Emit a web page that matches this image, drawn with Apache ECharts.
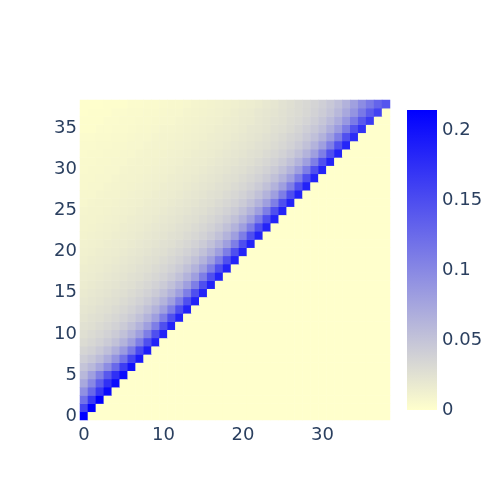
<!DOCTYPE html>
<html><head><meta charset="utf-8">
<script src="https://cdn.jsdelivr.net/npm/echarts@6/dist/echarts.min.js"></script>
<style>html,body{margin:0;padding:0;background:#fff}#c{width:500px;height:500px}</style>
</head><body><div id="c"></div>
<script>
// categories 0..38 on both axes
const xCategories = Array.from({length: 39}, (_, i) => String(i));
const yCategories = Array.from({length: 39}, (_, i) => String(i));
const xTickLabels = ['0', '10', '20', '30'];
const yTickLabels = ['0', '5', '10', '15', '20', '25', '30', '35'];
const colorTicks = [0, 0.05, 0.1, 0.15, 0.2];
const colorMax = 0.2143;
const colorRange = ['#ffffcc', '#0000ff'];

// estimated values, row y lists x = 0..y (cells with x > y are 0)
const zRows = [
[.214],
[.157,.214],
[.120,.166,.214],
[.093,.127,.167,.206],
[.073,.100,.137,.174,.206],
[.060,.080,.107,.140,.174,.204],
[.050,.059,.074,.096,.126,.163,.198],
[.041,.047,.056,.070,.090,.118,.157,.192],
[.035,.039,.045,.054,.067,.085,.112,.152,.188],
[.030,.034,.038,.044,.052,.064,.081,.108,.148,.185],
[.027,.030,.034,.038,.044,.052,.064,.081,.108,.148,.185],
[.025,.027,.030,.034,.038,.044,.052,.064,.081,.108,.148,.185],
[.023,.025,.027,.030,.034,.038,.044,.052,.064,.081,.108,.148,.185],
[.021,.023,.025,.027,.030,.034,.038,.044,.052,.064,.081,.108,.148,.185],
[.019,.021,.023,.025,.027,.030,.034,.038,.044,.052,.064,.081,.108,.148,.185],
[.018,.019,.021,.023,.025,.027,.030,.034,.038,.044,.052,.064,.081,.108,.148,.185],
[.016,.018,.019,.021,.023,.025,.027,.030,.034,.038,.044,.052,.064,.081,.108,.148,.185],
[.015,.016,.018,.019,.021,.023,.025,.027,.030,.034,.038,.044,.052,.064,.081,.108,.148,.185],
[.014,.015,.016,.018,.019,.021,.023,.025,.027,.030,.034,.038,.044,.052,.064,.081,.108,.148,.185],
[.013,.014,.015,.016,.018,.019,.021,.023,.025,.027,.030,.034,.038,.044,.052,.064,.081,.108,.148,.185],
[.012,.013,.014,.015,.016,.018,.019,.021,.023,.025,.027,.030,.034,.038,.044,.052,.064,.081,.108,.148,.185],
[.011,.012,.013,.014,.015,.016,.018,.019,.021,.023,.025,.027,.030,.034,.038,.044,.052,.064,.081,.108,.148,.185],
[.010,.011,.012,.013,.014,.015,.016,.018,.019,.021,.023,.025,.027,.030,.034,.038,.044,.052,.064,.081,.108,.148,.185],
[.009,.010,.011,.012,.013,.014,.015,.016,.018,.019,.021,.023,.025,.027,.030,.034,.038,.044,.052,.064,.081,.108,.148,.185],
[.009,.009,.010,.011,.012,.013,.014,.015,.016,.018,.019,.021,.023,.025,.027,.030,.034,.038,.044,.052,.064,.081,.108,.148,.185],
[.008,.009,.009,.010,.011,.012,.013,.014,.015,.016,.018,.019,.021,.023,.025,.027,.030,.034,.038,.044,.052,.064,.081,.108,.148,.185],
[.007,.008,.009,.009,.010,.011,.012,.013,.014,.015,.016,.018,.019,.021,.023,.025,.027,.030,.034,.038,.044,.052,.064,.081,.108,.148,.185],
[.007,.007,.008,.009,.009,.010,.011,.012,.013,.014,.015,.016,.018,.019,.021,.023,.025,.027,.030,.034,.038,.044,.052,.064,.081,.108,.148,.185],
[.006,.007,.007,.008,.009,.009,.010,.011,.012,.013,.014,.015,.016,.018,.019,.021,.023,.025,.027,.030,.034,.038,.044,.052,.064,.081,.108,.148,.186],
[.006,.006,.007,.007,.008,.009,.009,.010,.011,.012,.013,.014,.015,.016,.018,.019,.021,.023,.025,.027,.030,.034,.038,.044,.052,.064,.081,.108,.148,.185],
[.005,.006,.006,.007,.007,.008,.009,.009,.010,.011,.012,.013,.014,.015,.016,.018,.019,.021,.023,.025,.027,.030,.034,.038,.044,.052,.064,.081,.108,.148,.185],
[.005,.005,.006,.006,.007,.007,.008,.009,.009,.010,.011,.012,.013,.014,.015,.016,.018,.019,.021,.023,.025,.027,.030,.034,.038,.044,.052,.064,.081,.108,.148,.185],
[.004,.005,.005,.006,.006,.007,.007,.008,.009,.009,.010,.011,.012,.013,.014,.015,.016,.018,.019,.021,.023,.025,.027,.030,.034,.038,.044,.052,.064,.081,.108,.148,.184],
[.004,.004,.005,.005,.006,.006,.007,.007,.008,.009,.009,.010,.011,.012,.013,.014,.015,.016,.018,.019,.021,.023,.025,.027,.030,.034,.038,.044,.052,.064,.081,.108,.147,.183],
[.003,.003,.004,.004,.005,.005,.006,.007,.007,.008,.009,.009,.010,.011,.012,.013,.014,.015,.016,.018,.019,.021,.023,.025,.028,.031,.035,.039,.045,.053,.065,.082,.108,.147,.177],
[.002,.002,.003,.003,.004,.004,.005,.006,.006,.007,.008,.008,.009,.010,.011,.012,.013,.014,.015,.016,.018,.020,.021,.023,.026,.028,.031,.035,.040,.046,.054,.067,.084,.110,.145,.172],
[.002,.002,.002,.003,.003,.004,.004,.005,.005,.006,.007,.007,.008,.009,.010,.011,.012,.013,.014,.015,.017,.018,.020,.022,.024,.026,.029,.032,.036,.041,.048,.057,.070,.087,.112,.140,.165],
[.001,.002,.002,.002,.003,.003,.004,.004,.005,.005,.006,.007,.007,.008,.009,.010,.011,.012,.013,.014,.016,.017,.019,.021,.023,.025,.028,.030,.034,.038,.043,.050,.060,.073,.090,.113,.137,.158],
[.001,.001,.001,.002,.002,.002,.003,.003,.004,.004,.005,.006,.006,.007,.008,.009,.010,.011,.012,.013,.014,.015,.017,.019,.021,.024,.027,.030,.033,.036,.040,.046,.054,.065,.080,.097,.113,.130,.143]
];

const heatData = [];
for (let y = 0; y < yCategories.length; y++) {
  const row = zRows[y];
  if (row.length !== y + 1) console.warn('row length mismatch', y, row.length);
  for (let x = 0; x < xCategories.length; x++) {
    heatData.push([x, y, x <= y ? row[x] : 0]);
  }
}

const FONT = 'DejaVu Sans';
const TXT = '#2a3f5f';

const chart = echarts.init(document.getElementById('c'), null, {renderer: 'canvas'});
chart.setOption({
  animation: false,
  backgroundColor: '#ffffff',
  grid: [
    {left: 80, top: 100, width: 310, height: 320},
    {left: 437, top: 110, width: 1, height: 300}
  ],
  xAxis: [
    {type: 'category', gridIndex: 0, data: xCategories,
     axisLine: {show: false}, axisTick: {show: false}, splitLine: {show: false},
     axisLabel: {interval: (i, v) => xTickLabels.includes(v), margin: 6,
       fontSize: 18, fontFamily: FONT, color: TXT}},
    {type: 'value', gridIndex: 1, show: false}
  ],
  yAxis: [
    {type: 'category', gridIndex: 0, data: yCategories,
     axisLine: {show: false}, axisTick: {show: false}, splitLine: {show: false},
     axisLabel: {interval: (i, v) => yTickLabels.includes(v), margin: 3,
       padding: [4, 0, 0, 0],
       fontSize: 18, fontFamily: FONT, color: TXT}},
    {type: 'value', gridIndex: 1, min: 0, max: colorMax, interval: 0.05, position: 'right',
     axisLine: {show: false}, axisTick: {show: false}, splitLine: {show: false},
     axisLabel: {margin: 4, padding: [4, 0, 0, 0], fontSize: 18, fontFamily: FONT, color: TXT,
       formatter: v => {
         const t = colorTicks.find(c => Math.abs(c - v) < 1e-6);
         return t === undefined ? '' : String(t);
       }}}
  ],
  visualMap: {
    type: 'continuous', min: 0, max: colorMax, seriesIndex: 0, dimension: 2,
    show: false, inRange: {color: colorRange}
  },
  graphic: [{
    type: 'rect', left: 407, top: 110, silent: true,
    shape: {width: 30, height: 300},
    style: {fill: new echarts.graphic.LinearGradient(0, 1, 0, 0, [
      {offset: 0, color: colorRange[0]}, {offset: 1, color: colorRange[1]}])}
  }],
  series: [{
    type: 'heatmap', xAxisIndex: 0, yAxisIndex: 0, data: heatData,
    itemStyle: {borderWidth: 0},
    emphasis: {disabled: true}, progressive: 0
  }]
});
</script></body></html>
